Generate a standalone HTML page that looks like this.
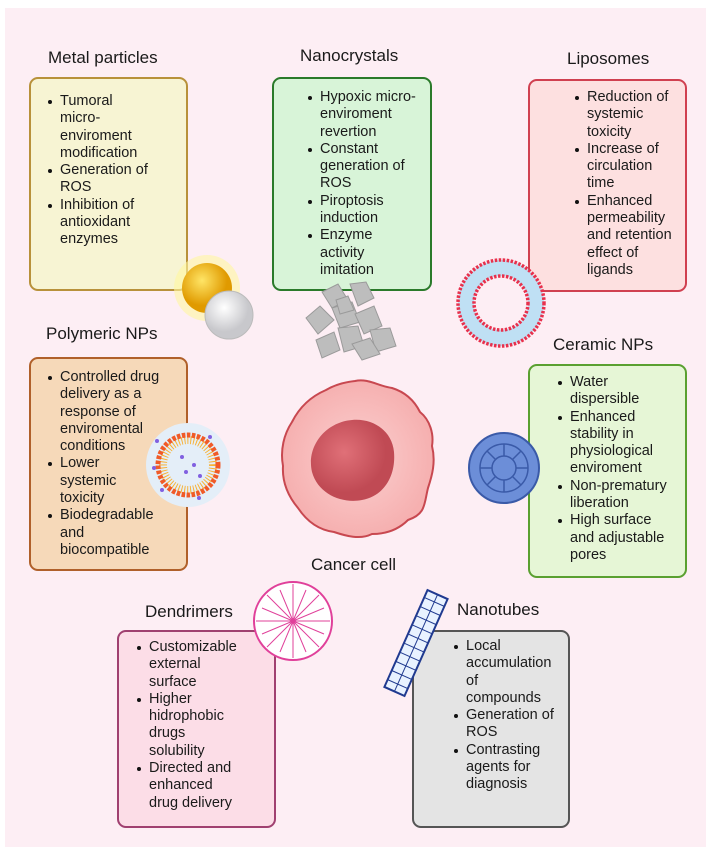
<!DOCTYPE html>
<html><head><meta charset="utf-8"><style>
body{margin:0;width:711px;height:855px;background:#fff;position:relative;overflow:hidden;font-family:"Liberation Sans",sans-serif;color:#1a1a1a}
.bg{position:absolute;left:5px;top:8px;width:701px;height:839px;background:#fdeef4}
.box{position:absolute;border:2px solid;border-radius:9px;box-sizing:border-box}
.t{position:absolute;font-size:17px;line-height:20px;white-space:nowrap}
ul{position:absolute;margin:0;padding:0;list-style:none;font-size:14.5px;line-height:17.3px;white-space:nowrap}
li{position:relative}
li:before{content:"";position:absolute;top:7px;left:-12px;width:4px;height:4px;border-radius:50%;background:#111}
svg{position:absolute;left:0;top:0}
</style></head><body>
<div class="bg"></div>
<div class="box" style="left:29px;top:77px;width:159px;height:214px;background:#f7f4d3;border-color:#b8913a"></div>
<div class="box" style="left:272px;top:77px;width:160px;height:214px;background:#d8f4d8;border-color:#2a7a2a"></div>
<div class="box" style="left:528px;top:79px;width:159px;height:213px;background:#fde0e0;border-color:#d04050"></div>
<div class="box" style="left:29px;top:357px;width:159px;height:214px;background:#f6d9b9;border-color:#b0602a"></div>
<div class="box" style="left:528px;top:364px;width:159px;height:214px;background:#e6f6d6;border-color:#5aa030"></div>
<div class="box" style="left:117px;top:630px;width:159px;height:198px;background:#fcdde7;border-color:#a04070"></div>
<div class="box" style="left:412px;top:630px;width:158px;height:198px;background:#e4e4e4;border-color:#555"></div>

<div class="t" style="left:48px;top:48px">Metal particles</div>
<div class="t" style="left:300px;top:46px">Nanocrystals</div>
<div class="t" style="left:567px;top:49px">Liposomes</div>
<div class="t" style="left:46px;top:324px">Polymeric NPs</div>
<div class="t" style="left:553px;top:335px">Ceramic NPs</div>
<div class="t" style="left:311px;top:555px">Cancer cell</div>
<div class="t" style="left:145px;top:602px">Dendrimers</div>
<div class="t" style="left:457px;top:600px">Nanotubes</div>

<svg width="711" height="855">
<defs><radialGradient id="g1" cx="40%" cy="35%"><stop offset="0" stop-color="#ffe566"/><stop offset="1" stop-color="#e09a00"/></radialGradient>
<radialGradient id="g2" cx="40%" cy="35%"><stop offset="0" stop-color="#fff"/><stop offset="1" stop-color="#c8c8cc"/></radialGradient>
<radialGradient id="g3" cx="50%" cy="50%"><stop offset="0" stop-color="#fbd0d0"/><stop offset="1" stop-color="#f6b0b0"/></radialGradient>
<radialGradient id="g4" cx="40%" cy="40%"><stop offset="0" stop-color="#e07078"/><stop offset="1" stop-color="#c04a54"/></radialGradient></defs>
<circle cx="207" cy="288" r="33" fill="#fff6a0" opacity=".6"/>
<circle cx="207" cy="288" r="25" fill="url(#g1)"/>
<circle cx="229" cy="315" r="24" fill="url(#g2)" stroke="#bbb"/>
<g fill="#bdbdbd" stroke="#9a9a9a" stroke-width="1">
<polygon points="322,292 338,284 348,300 332,308"/><polygon points="350,284 366,282 374,298 358,306"/>
<polygon points="306,318 320,306 334,320 318,334"/><polygon points="332,308 352,302 360,322 340,328"/>
<polygon points="355,314 374,306 382,326 364,334"/><polygon points="316,340 334,332 340,350 322,358"/>
<polygon points="338,328 358,326 364,346 344,352"/><polygon points="370,330 390,328 396,346 376,352"/>
<polygon points="352,344 370,338 380,354 362,360"/><polygon points="336,300 348,296 354,310 340,314"/></g>
<circle cx="501" cy="303" r="35" fill="none" stroke="#bfe0f4" stroke-width="16"/>
<circle cx="501" cy="303" r="43" fill="none" stroke="#e8304c" stroke-width="3.5" stroke-dasharray="2.5 1.5"/>
<circle cx="501" cy="303" r="27" fill="none" stroke="#e8304c" stroke-width="3.5" stroke-dasharray="2.5 1.5"/>
<circle cx="188" cy="465" r="42" fill="#e4eef8"/>
<circle cx="188" cy="465" r="25" fill="none" stroke="#f8b030" stroke-width="8" stroke-dasharray="1 2"/>
<circle cx="188" cy="465" r="30" fill="none" stroke="#f05a28" stroke-width="5" stroke-dasharray="3.5 1.5"/>
<g fill="#8060e0"><circle cx="182" cy="457" r="2"/><circle cx="194" cy="465" r="2"/><circle cx="186" cy="472" r="2"/><circle cx="157" cy="441" r="2"/><circle cx="210" cy="437" r="2"/><circle cx="154" cy="468" r="2"/><circle cx="199" cy="498" r="2"/><circle cx="162" cy="490" r="2"/><circle cx="200" cy="476" r="2"/></g>
<circle cx="504" cy="468" r="35" fill="#6c8ed8" stroke="#3a5aa8" stroke-width="2"/>
<g fill="none" stroke="#3a5aa8" stroke-width="1.5"><circle cx="504" cy="468" r="12"/><circle cx="504" cy="468" r="24"/><path d="M504 444V456M480 468H492M516 468H528M504 480V492M487 451L496 460M521 451L512 460M487 485L496 476M521 485L512 476"/></g>
<path d="M355 381 C368 378 378 386 392 388 C405 392 414 400 420 412 C430 420 434 434 432 446 C436 462 432 476 428 488 C424 504 426 514 408 520 C398 530 386 534 372 534 C360 540 346 536 334 532 C318 530 306 520 298 508 C288 496 282 482 283 466 C280 450 284 434 292 422 C300 406 312 396 326 390 C336 384 346 382 355 381Z" fill="url(#g3)" stroke="#c84850" stroke-width="2"/>
<path d="M352 420 C372 418 392 430 394 452 C396 476 384 496 362 500 C342 504 318 494 312 472 C306 446 326 422 352 420Z" fill="url(#g4)"/>
<circle cx="293" cy="621" r="39" fill="#fff" stroke="#e0409a" stroke-width="2"/>
<g stroke="#e0409a" stroke-width="1" fill="none"><path d="M293 584V658M256 621H330M267 595L319 647M319 595L267 647M280 590L293 621L306 590M280 652L293 621L306 652M262 608L293 621L262 634M324 608L293 621L324 634"/></g>
<g transform="rotate(24 416 643)"><rect x="405" y="590" width="22" height="106" fill="#e8f2ff" stroke="#203a90" stroke-width="2"/>
<path d="M405 598H427M405 608H427M405 618H427M405 628H427M405 638H427M405 648H427M405 658H427M405 668H427M405 678H427M405 688H427M416 590V696" stroke="#203a90" stroke-width="1"/></g>
</svg>

<ul style="left:48px;top:93px;padding-left:12px"><li>Tumoral<br>micro-<br>enviroment<br>modification</li><li>Generation of<br>ROS</li><li>Inhibition of<br>antioxidant<br>enzymes</li></ul>
<ul style="left:307px;top:89px;padding-left:13px"><li>Hypoxic micro-<br>enviroment<br>revertion</li><li>Constant<br>generation of<br>ROS</li><li>Piroptosis<br>induction</li><li>Enzyme<br>activity<br>imitation</li></ul>
<ul style="left:574px;top:89px;padding-left:13px"><li>Reduction of<br>systemic<br>toxicity</li><li>Increase of<br>circulation<br>time</li><li>Enhanced<br>permeability<br>and retention<br>effect of<br>ligands</li></ul>
<ul style="left:48px;top:369px;padding-left:12px"><li>Controlled drug<br>delivery as a<br>response of<br>enviromental<br>conditions</li><li>Lower<br>systemic<br>toxicity</li><li>Biodegradable<br>and<br>biocompatible</li></ul>
<ul style="left:558px;top:374px;padding-left:12px"><li>Water<br>dispersible</li><li>Enhanced<br>stability in<br>physiological<br>enviroment</li><li>Non-prematury<br>liberation</li><li>High surface<br>and adjustable<br>pores</li></ul>
<ul style="left:134px;top:639px;padding-left:15px"><li>Customizable<br>external<br>surface</li><li>Higher<br>hidrophobic<br>drugs<br>solubility</li><li>Directed and<br>enhanced<br>drug delivery</li></ul>
<ul style="left:452px;top:638px;padding-left:14px"><li>Local<br>accumulation<br>of<br>compounds</li><li>Generation of<br>ROS</li><li>Contrasting<br>agents for<br>diagnosis</li></ul>
</body></html>
